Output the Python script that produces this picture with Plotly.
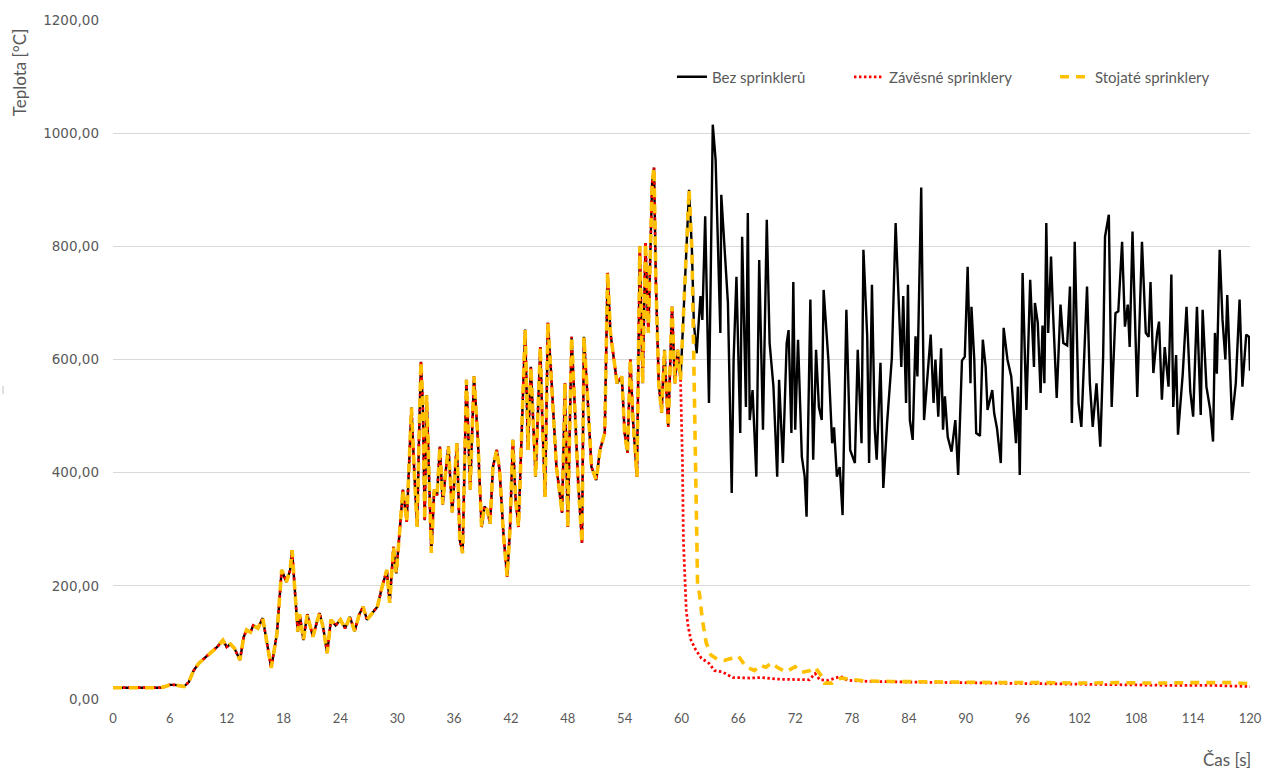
import plotly.graph_objects as go

# Temperature under the ceiling, run without sprinklers (time [s], temperature [°C])
time_bez = [
    0, 1, 2, 3, 4, 5, 5.5, 6, 6.5, 7, 7.5, 8, 8.5, 9, 9.5, 10, 10.5, 11, 11.6, 12,
    12.4, 12.8, 13.4, 13.8, 14.1, 14.5, 14.8, 15.3, 15.8, 16.2, 16.7, 17.3, 17.8, 18.3, 18.7, 18.9,
    19.2, 19.5, 19.7, 20.1, 20.5, 21.1, 21.5, 21.8, 22.2, 22.6, 23.0, 23.5, 24.0, 24.5, 25.0, 25.5,
    26.0, 26.4, 26.8, 27.3, 27.9, 28.4, 28.9, 29.2, 29.6, 29.9,
    30.3, 30.6, 31.0, 31.5, 31.8, 32.1, 32.3, 32.5, 32.7, 32.9, 33.1, 33.4, 33.6, 33.9, 34.2, 34.5,
    34.8, 35.1, 35.4, 35.8, 36.3, 36.6, 36.9, 37.3, 37.7, 38.1, 38.5, 38.9, 39.2, 39.5, 39.8, 40.1,
    40.5, 40.8, 41.2, 41.6, 41.9, 42.2, 42.5, 42.8, 43.1, 43.5, 43.8, 44.1, 44.6, 45.1, 45.3, 45.6,
    45.9, 46.2, 46.8, 47.4, 47.7, 48.0, 48.4, 48.7, 49.1, 49.5, 49.7, 50.1, 50.5, 51.0, 51.4, 51.9,
    52.2, 52.5, 53.2, 53.7, 54.0, 54.3, 54.6, 54.9, 55.3, 55.6, 55.9, 56.2, 56.5, 56.9, 57.1, 57.3,
    57.6, 57.9, 58.2, 58.6, 59.0, 59.3, 59.6, 59.9, 60.2, 60.5, 60.8, 61.1,
    61.3, 61.6, 62.0, 62.2, 62.5, 62.9, 63.3, 63.6, 64.1, 64.2, 64.6, 64.9, 65.3, 65.5, 65.8, 66.2,
    66.4, 66.8, 67.0, 67.2, 67.5, 67.9, 68.2, 68.4, 68.6, 69.0, 69.3, 69.7, 70.1, 70.3, 70.7, 71.1,
    71.3, 71.6, 71.8, 72.0, 72.3, 72.7, 73.0, 73.2, 73.6, 73.9, 74.2, 74.5, 74.8, 75.0, 75.5, 75.9,
    76.1, 76.4, 76.7, 77.0, 77.4, 77.8, 78.3, 78.6, 79.0, 79.2, 79.6, 79.8, 80.1, 80.4, 80.6, 81.0,
    81.3, 81.7, 82.2, 82.6, 83.1, 83.2, 83.4, 83.7, 83.9, 84.1, 84.4, 84.7, 84.9, 85.3, 85.6, 85.9,
    86.3, 86.6, 86.8, 87.1, 87.4, 87.6, 87.8, 88.1, 88.5, 88.9, 89.2, 89.6, 89.9, 90.2, 90.5, 90.6,
    90.9, 91.1, 91.5, 91.8, 92.1, 92.3, 92.8, 93.0, 93.3, 93.7, 94.0, 94.4, 94.8, 95.0, 95.3, 95.5,
    95.7, 96.0, 96.4, 96.8, 97.2, 97.3, 97.6, 97.9, 98.1, 98.3, 98.5, 98.7, 99.0, 99.2, 99.6, 100.0,
    100.3, 100.7, 101.0, 101.2, 101.5, 101.9, 102.2, 102.8, 103.1, 103.4, 103.8, 104.2, 104.5, 104.7,
    105.1, 105.4, 105.8, 106.1, 106.5, 106.8, 107.1, 107.3, 107.6, 108.1, 108.6, 109.0, 109.3, 109.5,
    109.8, 110.2, 110.4, 110.7, 111.0, 111.4, 111.7, 111.9, 112.2, 112.4, 112.9, 113.3, 113.7, 114.0,
    114.4, 114.8, 115.0, 115.4, 115.8, 116.1, 116.3, 116.5, 116.8, 117.1, 117.4, 117.6, 118.1, 118.5,
    118.9, 119.2, 119.6, 119.9, 120.0,
]
temp_bez = [
    20, 20, 19, 20, 19, 20, 22, 25, 25, 23, 22, 30, 50, 62, 70, 78, 85, 92, 104, 92,
    97, 90, 69, 110, 122, 118, 130, 125, 143, 104, 55, 115, 228, 207, 228, 263,
    186, 119, 150, 104, 150, 110, 135, 152, 125, 81, 140, 130, 140, 125, 145, 120,
    150, 163, 140, 150, 163, 198, 228, 170, 269, 222,
    304, 370, 313, 515, 400, 304, 462, 596, 519, 316, 537, 370, 258, 370, 360, 446,
    344, 400, 446, 330, 452, 281, 258, 564, 370, 570, 462, 304, 340, 334, 310, 410,
    440, 405, 293, 216, 300, 458, 350, 304, 470, 653, 440, 587, 393, 622, 499, 357,
    665, 587, 410, 329, 558, 304, 640, 529, 381, 276, 640, 529, 410, 387, 440, 470,
    753, 647, 558, 570, 470, 435, 600, 488, 393, 800, 558, 806, 647, 912, 939, 735,
    558, 506, 617, 481, 693, 558, 617, 564, 676, 794, 900, 794,
    665, 611, 712, 670, 853, 523, 1015, 953, 647, 891, 776, 700, 364, 600, 746, 470,
    817, 516, 859, 493, 546, 393, 776, 629, 476, 847, 629, 553, 393, 564, 417, 629,
    652, 470, 737, 476, 635, 428, 393, 322, 706, 423, 617, 516, 493, 723, 600, 452,
    480, 393, 410, 325, 688, 440, 417, 617, 452, 794, 641, 417, 732, 476, 423, 594,
    373, 488, 603, 841, 641, 587, 712, 523, 732, 493, 458, 641, 570, 904, 493, 558,
    644, 523, 600, 499, 620, 476, 535, 463, 437, 493, 396, 598, 605, 764, 558, 693,
    600, 470, 465, 635, 587, 511, 546, 505, 478, 417, 656, 600, 570, 523, 452, 552,
    396, 753, 511, 741, 587, 700, 665, 541, 660, 558, 841, 647, 782, 688, 532, 697,
    629, 625, 729, 488, 808, 523, 481, 729, 558, 481, 558, 446, 605, 817,
    856, 516, 682, 685, 808, 658, 697, 622, 826, 534, 808, 647, 640, 737,
    576, 647, 667, 529, 622, 552, 750, 516, 608, 467, 574, 693, 543, 499,
    693, 502, 688, 552, 511, 455, 647, 575, 794, 670, 600, 714, 493, 558,
    706, 552, 644, 640, 580,
]

# Sprinkler runs: identical to the free burn until activation, then cooling
activation_zav = 59.9     # pendent sprinklers (Závěsné)
activation_sto = 61.1     # upright sprinklers (Stojaté)

time_zav_after = [60.1, 60.2, 60.4, 60.5, 60.7, 61.0, 61.5, 62.1, 62.9, 63.5, 64.3, 65.4, 67.2,
                  68.5, 70.1, 72.0, 73.5, 74.1, 74.6, 75.5, 76.8, 77.5, 78.4, 80, 84, 88, 92,
                  96, 100, 104, 108, 112, 116, 120]
temp_zav_after = [420, 280, 190, 157, 128, 104, 87, 72, 63, 50, 48, 38, 37,
                  38, 35, 34, 34, 45, 34, 33, 40, 33, 32, 31, 30, 29, 28,
                  27, 26, 25, 25, 24, 24, 22]

time_sto_after = [61.3, 61.5, 61.7, 61.9, 62.2, 62.6, 63.1, 63.8, 64.5, 65.3, 66.0, 66.8, 67.7,
                  68.3, 68.9, 69.5, 70.1, 71.0, 72.0, 72.7, 73.5, 74.1, 74.8, 75.1, 75.9, 76.8,
                  77.6, 79.2, 82, 86, 90, 94, 98, 102, 106, 110, 114, 118, 120]
temp_sto_after = [600, 350, 200, 186, 140, 100, 78, 70, 68, 72, 76, 57, 50,
                  60, 56, 64, 56, 48, 57, 47, 50, 56, 40, 28, 28, 37,
                  35, 32, 31, 30, 29, 29, 29, 28, 29, 28, 29, 29, 27]

x_ticks = list(range(0, 121, 6))
y_ticks = [0, 200, 400, 600, 800, 1000, 1200]
y_tick_text = ["0,00", "200,00", "400,00", "600,00", "800,00", "1000,00", "1200,00"]


def with_prefix(t_after, v_after, activation):
    """Free-burn curve up to activation time, followed by the sprinkler branch."""
    n = sum(1 for t in time_bez if t <= activation)
    return time_bez[:n] + t_after, temp_bez[:n] + v_after


time_zav, temp_zav = with_prefix(time_zav_after, temp_zav_after, activation_zav)
time_sto, temp_sto = with_prefix(time_sto_after, temp_sto_after, activation_sto)

GREY = "#595959"

fig = go.Figure()
fig.add_trace(go.Scatter(x=time_bez, y=temp_bez, mode="lines", name="Bez sprinklerů",
                         legendwidth=132,
                         line=dict(color="#000000", width=2.4)))
fig.add_trace(go.Scatter(x=time_zav, y=temp_zav, mode="lines", name="Závěsné sprinklery",
                         legendwidth=161,
                         line=dict(color="#FF0000", width=2.75, dash="2.5px,2.5px")))
fig.add_trace(go.Scatter(x=time_sto, y=temp_sto, mode="lines", name="Stojaté sprinklery",
                         legendwidth=130,
                         line=dict(color="#FFC000", width=3.6, dash="9px,7px")))

fig.update_layout(
    width=1282, height=775,
    margin=dict(l=113, r=32, t=20, b=76),
    paper_bgcolor="white", plot_bgcolor="white",
    font=dict(family="Lato", color=GREY, size=13),
    showlegend=True,
    legend=dict(orientation="h", x=0.4916, y=0.916, xanchor="left", yanchor="middle",
                font=dict(family="Lato", size=15, color=GREY), bgcolor="rgba(0,0,0,0)"),
    xaxis=dict(range=[0, 120], tickvals=x_ticks, showgrid=False, zeroline=False,
               showline=False, ticks="", ticklabelstandoff=10,
               tickfont=dict(family="Lato", size=13, color=GREY)),
    yaxis=dict(range=[0, 1200], tickvals=y_ticks, ticktext=y_tick_text, showgrid=True,
               gridcolor="#d9d9d9", gridwidth=1, zeroline=False, showline=False, ticks="",
               ticklabelstandoff=13,
               tickfont=dict(family="DejaVu Sans", size=13.5, color=GREY)),
    annotations=[
        dict(text="Teplota [°C]", xref="paper", yref="paper", x=-0.0827, y=0.923,
             xanchor="center", yanchor="middle", textangle=-90, showarrow=False,
             font=dict(family="Lato", size=17, color=GREY)),
        dict(text="Čas [s]", xref="paper", yref="paper", x=1.0026, y=-0.0884,
             xanchor="right", yanchor="middle", showarrow=False,
             font=dict(family="Lato", size=17, color=GREY)),
    ],
    shapes=[
        dict(type="line", xref="paper", yref="paper", x0=-0.0967, x1=-0.0967,
             y0=0.449, y1=0.461, line=dict(color="#bfbfbf", width=1)),
    ],
)

fig.write_html("out.html")
